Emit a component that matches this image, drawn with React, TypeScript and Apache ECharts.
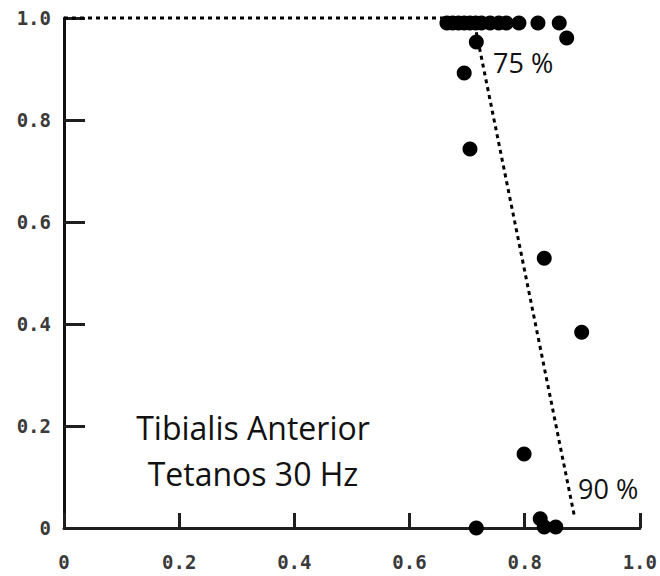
import React, { useEffect, useRef } from "react";
import * as echarts from "echarts";

// Normalised length (x) vs normalised force (y)
const pointX = [
  0.665, 0.675, 0.685, 0.695, 0.705, 0.715, 0.725, 0.74, 0.755, 0.768, 0.79, 0.823, 0.86,
  0.873, 0.716, 0.695, 0.705, 0.834, 0.899, 0.799, 0.716, 0.827, 0.834, 0.854,
];
const pointY = [
  0.99, 0.99, 0.99, 0.99, 0.99, 0.99, 0.99, 0.99, 0.99, 0.99, 0.99, 0.99, 0.99,
  0.961, 0.953, 0.892, 0.743, 0.529, 0.384, 0.145, 0.0, 0.018, 0.002, 0.002,
];

// Dotted guide line
const guideX = [0, 0.711, 0.886];
const guideY = [1.0, 1.0, 0.025];

const tickValues = [0, 0.2, 0.4, 0.6, 0.8, 1.0];
const tickLabels = ["0", "0.2", "0.4", "0.6", "0.8", "1.0"];

const titleLines = ["Tibialis Anterior", "Tetanos 30 Hz"];
const markLabels = ["75 %", "90 %"];

export default function App() {
  const ref = useRef<HTMLDivElement>(null);

  useEffect(() => {
    document.body.style.margin = "0";
    if (!ref.current) return;
    const chart = echarts.init(ref.current, null, { renderer: "svg" });

    const labelFor = (v: number) => {
      const i = tickValues.findIndex((t) => Math.abs(t - v) < 1e-6);
      return i >= 0 ? tickLabels[i] : "";
    };

    const axisLabelStyle = {
      fontFamily: "DejaVu Sans Mono",
      fontWeight: "bold" as const,
      fontSize: 19,
      color: "#3a3a3a",
    };

    chart.setOption({
      animation: false,
      backgroundColor: "#ffffff",
      grid: { left: 64, right: 19, top: 18, bottom: 48, containLabel: false },
      xAxis: {
        type: "value",
        min: 0,
        max: 1,
        interval: 0.2,
        splitLine: { show: false },
        axisLine: { show: true, lineStyle: { color: "#1f1f1f", width: 3 } },
        axisTick: { show: true, inside: true, length: 15, lineStyle: { color: "#1f1f1f", width: 3 } },
        axisLabel: { ...axisLabelStyle, margin: 24, formatter: (v: number) => labelFor(v) },
      },
      yAxis: {
        type: "value",
        min: 0,
        max: 1,
        interval: 0.2,
        splitLine: { show: false },
        axisLine: { show: true, lineStyle: { color: "#111111", width: 3 } },
        axisTick: { show: true, inside: true, length: 21, lineStyle: { color: "#1f1f1f", width: 3 } },
        axisLabel: { ...axisLabelStyle, margin: 13, formatter: (v: number) => labelFor(v) },
      },
      series: [
        {
          type: "line",
          data: guideX.map((x, i) => [x, guideY[i]]),
          showSymbol: false,
          symbol: "none",
          clip: false,
          z: 1,
          lineStyle: { color: "#000000", width: 3, type: [4, 4] },
        },
        {
          type: "scatter",
          data: pointX.map((x, i) => [x, pointY[i]]),
          symbol: "circle",
          symbolSize: 15,
          clip: false,
          z: 3,
          itemStyle: { color: "#000000", opacity: 1 },
        },
      ],
      graphic: [
        {
          type: "text",
          x: 493,
          y: 62,
          z: 10,
          style: {
            text: markLabels[0],
            fontFamily: "Open Sans",
            fontSize: 27,
            fill: "#111111",
            textAlign: "left",
            textVerticalAlign: "middle",
          },
        },
        {
          type: "text",
          x: 578,
          y: 488,
          z: 10,
          style: {
            text: markLabels[1],
            fontFamily: "Open Sans",
            fontSize: 27,
            fill: "#111111",
            textAlign: "left",
            textVerticalAlign: "middle",
          },
        },
        {
          type: "text",
          x: 253,
          y: 427,
          z: 10,
          style: {
            text: titleLines[0],
            fontFamily: "Open Sans",
            fontSize: 32,
            fill: "#111111",
            textAlign: "center",
            textVerticalAlign: "middle",
          },
        },
        {
          type: "text",
          x: 253,
          y: 473,
          z: 10,
          style: {
            text: titleLines[1],
            fontFamily: "Open Sans",
            fontSize: 32,
            fill: "#111111",
            textAlign: "center",
            textVerticalAlign: "middle",
          },
        },
      ],
    });

    return () => chart.dispose();
  }, []);

  return <div ref={ref} style={{ width: 660, height: 576 }} />;
}
